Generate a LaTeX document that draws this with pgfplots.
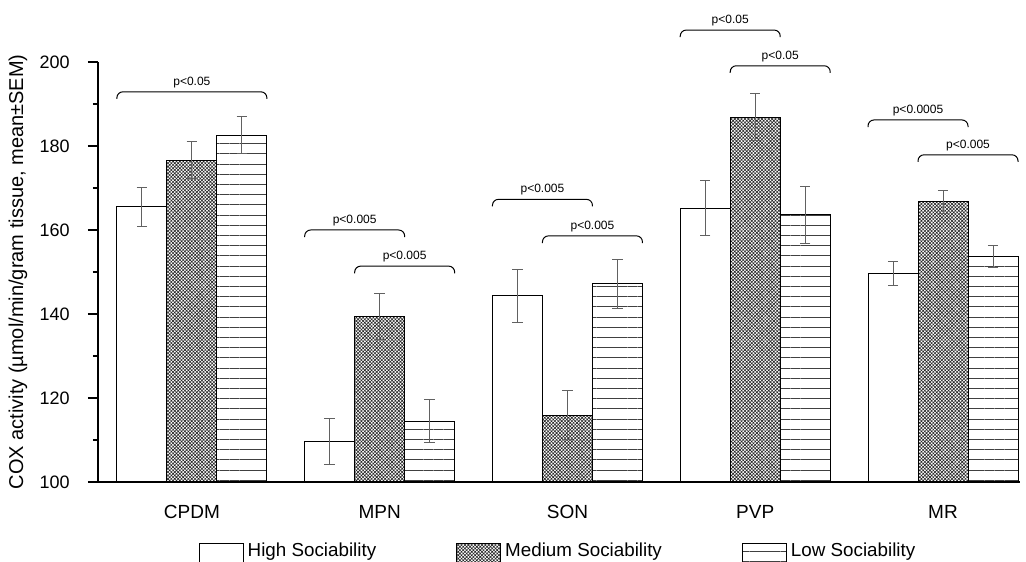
\documentclass[border=0pt]{standalone}
\usepackage{fontspec}
\setmainfont{Liberation Sans}
\usepackage{pgfplots}
\usepackage{pgfplotstable}
\pgfplotsset{compat=1.18}
\usetikzlibrary{patterns.meta,calc}

\pgfplotstableread{
x y e
0 165.5 4.6
1 109.7 5.5
2 144.3 6.3
3 165.2 6.5
4 149.7 2.9
}\high
\pgfplotstableread{
x y e
0 176.6 4.4
1 139.4 5.5
2 115.9 5.9
3 186.8 5.6
4 166.7 2.8
}\medium
\pgfplotstableread{
x y e
0 182.6 4.4
1 114.5 5.2
2 147.2 5.8
3 163.6 6.7
4 153.6 2.6
}\low

\pgfplotsset{myerr/.style={
  error bars/y dir=both, error bars/y explicit,
  error bars/error bar style={draw=black!62, line width=0.5pt},
  error bars/error mark options={rotate=90, mark size=2.6pt, draw=black!62, line width=0.5pt}}}

\newcommand\brk[5]{%
  \draw[line width=0.5pt, rounded corners=3pt] (axis cs:#1,#3-1.7) -- (axis cs:#1,#3) -- (axis cs:#2,#3) -- (axis cs:#2,#3-1.7);
  \node[anchor=base, inner sep=0pt, yshift=3.3pt, font=\fontsize{6}{7}\selectfont] at (axis cs:#4,#3) {#5};
}

\begin{document}
\begin{tikzpicture}
\begin{axis}[
  scale only axis,
  width=461pt, height=210pt,
  xmin=-0.5, xmax=4.41,
  ymin=100, ymax=200,
  clip=false,
  axis x line=bottom, axis y line=left,
  axis line style={-, line width=0.75pt},
  ybar=0pt, bar width=25pt,
  xtick={0,1,2,3,4},
  xticklabels={CPDM,MPN,SON,PVP,MR},
  x tick style={draw=none},
  ytick={100,120,140,160,180,200},
  minor y tick num=1,
  tick align=outside,
  major tick length=5pt, minor tick length=2.5pt,
  y tick style={line width=0.6pt, black},
  /pgf/number format/assume math mode=true,
  yticklabel style={font=\fontsize{9}{10}\selectfont, inner sep=0pt, xshift=-9pt},
  xticklabel style={font=\fontsize{9.5}{11}\selectfont, anchor=base, inner sep=0pt, yshift=-13.3pt},
  ylabel={COX activity (µmol/min/gram tissue, mean±SEM)},
  every axis y label/.style={at={(axis description cs:0,0.5)}, xshift=-40pt, rotate=90, anchor=center, font=\fontsize{10}{12}\selectfont},
  legend style={draw=none, at={(0.5,-0.1667)}, anchor=center, legend columns=3, xshift=0pt,
    /tikz/every even column/.append style={column sep=38pt},
    font=\fontsize{9.4}{11}\selectfont, legend cell align=left},
  legend image code/.code={\draw[#1,/tikz/.cd] (0pt,-6.25pt) rectangle (22pt,4.25pt);},
]
\addplot[myerr, draw=black, fill=white, line width=0.5pt] table[x=x, y=y, y error=e]{\high};
\addplot[myerr, draw=black, line width=0.5pt, pattern={Hatch[angle=45,distance=1.2pt,line width=0.3pt]}, pattern color=black!85] table[x=x, y=y, y error=e]{\medium};
\addplot[myerr, draw=black, line width=0.5pt, pattern={Lines[angle=0,distance=5.1pt,line width=0.5pt]}, pattern color=black!75] table[x=x, y=y, y error=e]{\low};
\legend{High Sociability, Medium Sociability, Low Sociability}

\brk{-0.3994}{0.3994}{192.9}{0}{p<0.05}
\brk{0.6006}{1.1331}{160.0}{0.8669}{p<0.005}
\brk{0.8669}{1.3994}{151.4}{1.1331}{p<0.005}
\brk{1.6006}{2.1331}{167.3}{1.8669}{p<0.005}
\brk{1.8669}{2.3994}{158.6}{2.1331}{p<0.005}
\brk{2.6006}{3.1331}{207.6}{2.8669}{p<0.05}
\brk{2.8669}{3.3994}{199.1}{3.1331}{p<0.05}
\brk{3.6006}{4.1331}{186.2}{3.8669}{p<0.0005}
\brk{3.8669}{4.3994}{177.9}{4.1331}{p<0.005}
\end{axis}
\pgfresetboundingbox
\path[use as bounding box] ($(current axis.south west)+(-49pt,-40pt)$) rectangle ($(current axis.north east)+(3pt,31pt)$);
\end{tikzpicture}
\end{document}
